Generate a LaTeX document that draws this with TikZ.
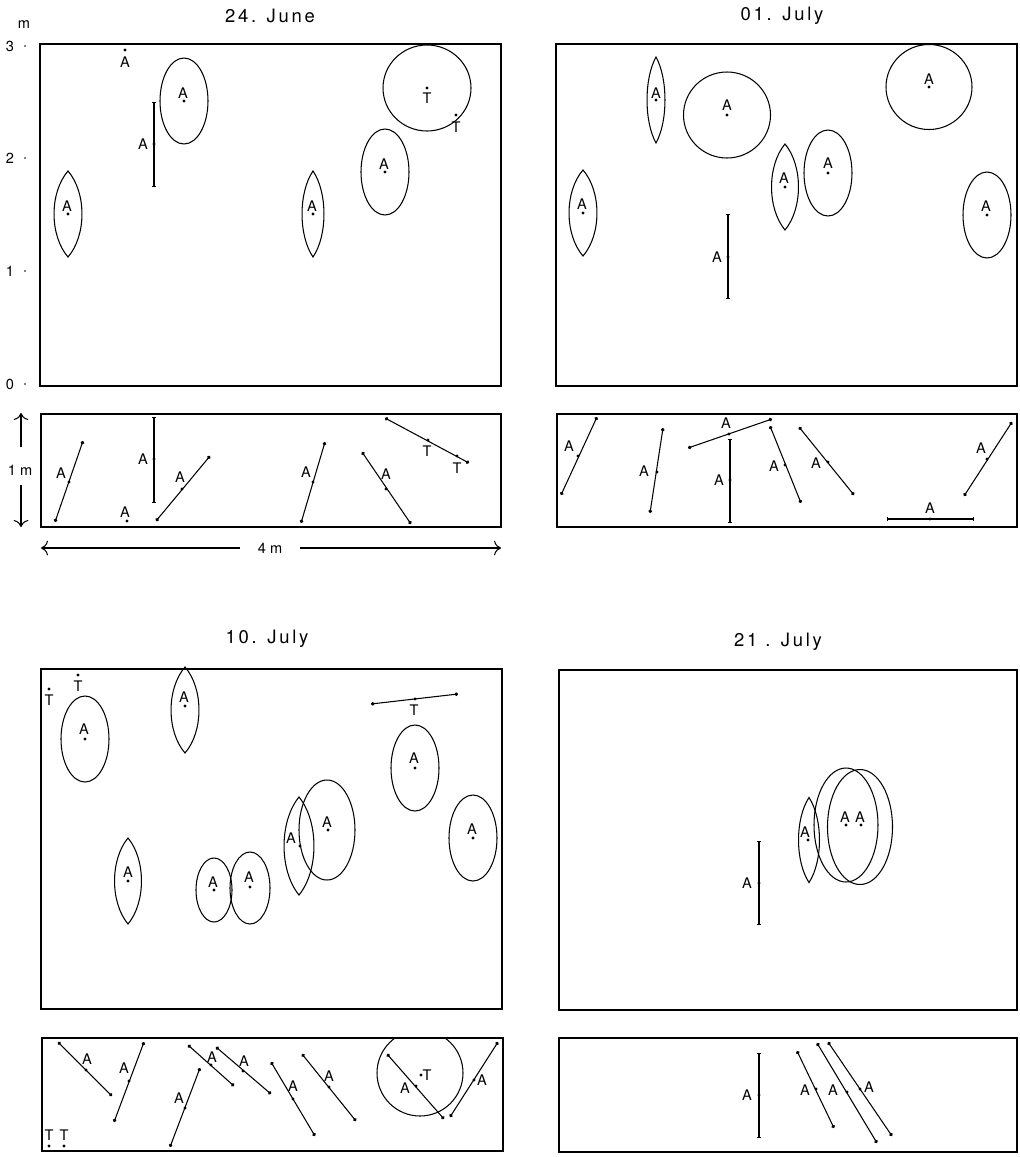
\documentclass[tikz,border=0pt]{standalone}
\usepackage{fontspec}
\setmainfont{TeX Gyre Heros}
\newfontfamily\titlefont[LetterSpace=15]{TeX Gyre Heros}
\usetikzlibrary{arrows.meta}
\usetikzlibrary{positioning}

% pointed leaf outline: centre x, centre y, half width, half height
\newcommand{\lens}[4]{%
  \draw[obj] (#1,{#2-#4}) .. controls ({#1+1.33*#3},{#2-0.5*#4}) and ({#1+1.33*#3},{#2+0.5*#4}) .. (#1,{#2+#4})
    .. controls ({#1-1.33*#3},{#2+0.5*#4}) and ({#1-1.33*#3},{#2-0.5*#4}) .. cycle;}

\begin{document}
\begin{tikzpicture}[x=0.02cm,y=-0.02cm,
  frame/.style={line width=0.8pt},
  obj/.style={line width=0.6pt},
  seg/.style={obj,{Circle[length=2pt]}-{Circle[length=2pt]}},
  rod/.style={obj,{Bar[width=2.4pt]}-{Bar[width=2.4pt]}},
  dotr/.style={radius=0.9pt},
  lbl/.style={font=\fontsize{8.3}{9}\selectfont,inner sep=0pt},
  ttl/.style={font=\titlefont\fontsize{10.5}{12}\selectfont,inner sep=0pt}]
\useasboundingbox (0,0) rectangle (1019,1157);

% titles
\node[ttl] (t1) at (270,16) {24. June};
\node[ttl] (t2) at (782,16) {01. July};
\node[ttl] (t3) at (267,639) {10. July};
\node[ttl] (t4) at (778,642) {21 . July};

% scale
\node[lbl] (ym) at (24,25) {m};
\node[lbl] (y3) at (10,46) {3};
\node[lbl] (y2) at (10,158) {2};
\node[lbl] (y1) at (10,271) {1};
\node[lbl] (y0) at (10,384) {0};
\foreach \yy in {46,158,271,384} \fill (25,\yy) circle [radius=0.5pt];
\node[lbl] (hm) at (20,470) {1 m};
\draw[obj,-{To[length=4pt]}] (21,447) -- (21,413);
\draw[obj,-{To[length=4pt]}] (21,485) -- (21,527);
\node[lbl] (wm) at (270,548) {4 m};
\draw[obj,-{To[length=4pt]}] (240,548) -- (41,548);
\draw[obj,-{To[length=4pt]}] (300,548) -- (501,548);

% frames
\draw[frame] (40,44) rectangle (501,386);
\draw[frame] (41,414) rectangle (501,527);
\draw[frame] (556,44) rectangle (1017,386);
\draw[frame] (557,414) rectangle (1017,527);
\draw[frame] (41,669) rectangle (502,1009);
\draw[frame] (42,1038) rectangle (503,1151);
\draw[frame] (559,670) rectangle (1017,1010);
\draw[frame] (559,1038) rectangle (1017,1152);

% 24. June, plan
\fill (125,50) circle [dotr]; \node[lbl] (ja1) at (125,62) {A};
\draw[rod] (154,102) -- (154,187); \fill (154,144) circle [dotr]; \node[lbl] (ja2) at (143,144) {A};
\draw[obj] (184,101) ellipse [x radius=24,y radius=43]; \fill (184,101) circle [dotr]; \node[lbl] (ja3) at (183,93) {A};
\lens{68}{214}{14}{43} \fill (68,214) circle [dotr]; \node[lbl] (ja4) at (67,206) {A};
\lens{313}{214}{11}{43} \fill (313,214) circle [dotr]; \node[lbl] (ja5) at (312,206) {A};
\draw[obj] (385,172) ellipse [x radius=24,y radius=43]; \fill (385,172) circle [dotr]; \node[lbl] (ja6) at (384,164) {A};
\draw[obj] (427,88) ellipse [x radius=44,y radius=43]; \fill (427,88) circle [dotr]; \node[lbl] (ja7) at (427,98) {T};
\fill (456,115) circle [dotr]; \node[lbl] (ja8) at (456,127) {T};

% 24. June, side
\draw[seg] (55,522) -- (83,441); \fill (69,482) circle [dotr]; \node[lbl] (jb1) at (61,473) {A};
\draw[rod] (154,417) -- (154,503); \fill (154,459) circle [dotr]; \node[lbl] (jb2) at (143,459) {A};
\fill (127,521) circle [dotr]; \node[lbl] (jb3) at (125,512) {A};
\draw[seg] (156,521) -- (210,456); \fill (182,489) circle [dotr]; \node[lbl] (jb4) at (180,477) {A};
\draw[seg] (301,523) -- (325,442); \fill (313,482) circle [dotr]; \node[lbl] (jb5) at (306,472) {A};
\draw[seg] (362,452) -- (411,524); \fill (386,489) circle [dotr]; \node[lbl] (jb6) at (386,474) {A};
\draw[seg] (385,418) -- (469,463); \fill (428,440) circle [dotr]; \fill (457,456) circle [dotr];
\node[lbl] (jb7) at (427,451) {T}; \node[lbl] (jb8) at (457,468) {T};

% 01. July, plan
\lens{656}{100}{9}{43} \fill (656,100) circle [dotr]; \node[lbl] (ka1) at (656,93) {A};
\draw[obj] (727,115) ellipse [x radius=43.5,y radius=43]; \fill (727,115) circle [dotr]; \node[lbl] (ka2) at (727,105) {A};
\draw[obj] (929,87) ellipse [x radius=43,y radius=42.5]; \fill (929,87) circle [dotr]; \node[lbl] (ka3) at (929,79) {A};
\lens{785}{187}{13.5}{43} \fill (785,187) circle [dotr]; \node[lbl] (ka4) at (784,178) {A};
\draw[obj] (828,173) ellipse [x radius=24,y radius=43]; \fill (828,173) circle [dotr]; \node[lbl] (ka5) at (828,163) {A};
\lens{583}{213}{14}{43} \fill (583,213) circle [dotr]; \node[lbl] (ka6) at (582,204) {A};
\draw[obj] (987,215) ellipse [x radius=24,y radius=43]; \fill (987,215) circle [dotr]; \node[lbl] (ka7) at (986,206) {A};
\draw[rod] (728,214) -- (728,299); \fill (728,257) circle [dotr]; \node[lbl] (ka8) at (717,257) {A};

% 01. July, side
\draw[seg] (561,495) -- (597,417); \fill (578,456) circle [dotr]; \node[lbl] (kb1) at (569,446) {A};
\draw[seg] (650,513) -- (663,428); \fill (657,472) circle [dotr]; \node[lbl] (kb2) at (644,471) {A};
\draw[seg] (688,448) -- (772,419); \fill (729,434) circle [dotr]; \node[lbl] (kb3) at (726,423) {A};
\draw[rod] (730,439) -- (730,523); \fill (730,480) circle [dotr]; \node[lbl] (kb4) at (719,480) {A};
\draw[seg] (770,426) -- (801,503); \fill (785,465) circle [dotr]; \node[lbl] (kb5) at (774,466) {A};
\draw[seg] (799,427) -- (854,495); \fill (828,462) circle [dotr]; \node[lbl] (kb6) at (816,463) {A};
\draw[rod] (887,519) -- (974,519); \fill (930,519) circle [dotr]; \node[lbl] (kb7) at (930,508) {A};
\draw[seg] (964,496) -- (1012,422); \fill (987,459) circle [dotr]; \node[lbl] (kb8) at (981,448) {A};

% 10. July, plan
\fill (49,689) circle [dotr]; \node[lbl] (ta1) at (49,700) {T};
\fill (78,675) circle [dotr]; \node[lbl] (ta2) at (78,686) {T};
\draw[obj] (85,739) ellipse [x radius=24,y radius=43]; \fill (85,739) circle [dotr]; \node[lbl] (ta3) at (84,729) {A};
\lens{185}{710}{14}{43} \fill (185,706) circle [dotr]; \node[lbl] (ta4) at (184,697) {A};
\draw[seg] (371,704) -- (458,694); \fill (415,699) circle [dotr]; \node[lbl] (ta5) at (414,710) {T};
\draw[obj] (415,768) ellipse [x radius=24,y radius=43]; \fill (415,768) circle [dotr]; \node[lbl] (ta6) at (414,758) {A};
\lens{128}{881}{13.5}{43} \fill (128,881) circle [dotr]; \node[lbl] (ta7) at (128,872) {A};
\draw[obj] (214,890) ellipse [x radius=18,y radius=32]; \fill (214,890) circle [dotr]; \node[lbl] (ta8) at (213,882) {A};
\draw[obj] (250,888) ellipse [x radius=20,y radius=36]; \fill (250,887) circle [dotr]; \node[lbl] (ta9) at (249,877) {A};
\lens{299}{846}{15}{49} \fill (300,846) circle [dotr]; \node[lbl] (ta10) at (291,838) {A};
\draw[obj] (327,830) ellipse [x radius=28,y radius=50]; \fill (328,830) circle [dotr]; \node[lbl] (ta11) at (327,822) {A};
\draw[obj] (473,838) ellipse [x radius=24,y radius=43]; \fill (473,838) circle [dotr]; \node[lbl] (ta12) at (472,829) {A};

% 10. July, side
\draw[seg] (58,1042) -- (112,1096); \fill (86,1070) circle [dotr]; \node[lbl] (tb1) at (87,1059) {A};
\draw[seg] (114,1122) -- (144,1042); \fill (129,1081) circle [dotr]; \node[lbl] (tb2) at (124,1068) {A};
\draw[seg] (170,1147) -- (200,1068); \fill (185,1108) circle [dotr]; \node[lbl] (tb3) at (179,1098) {A};
\draw[seg] (188,1045) -- (234,1086); \fill (211,1065) circle [dotr]; \node[lbl] (tb4) at (212,1057) {A};
\draw[seg] (216,1047) -- (271,1094); \fill (243,1071) circle [dotr]; \node[lbl] (tb5) at (244,1061) {A};
\draw[seg] (271,1062) -- (315,1136); \fill (293,1099) circle [dotr]; \node[lbl] (tb6) at (293,1086) {A};
\draw[seg] (302,1054) -- (356,1121); \fill (329,1087) circle [dotr]; \node[lbl] (tb7) at (329,1076) {A};
\begin{scope}
\clip (42,1038) rectangle (503,1151);
\draw[obj] (420,1073) circle [radius=43];
\end{scope}
\fill (421,1075) circle [dotr]; \node[lbl] (tb8) at (427,1075) {T};
\draw[seg] (387,1054) -- (444,1119); \fill (416,1086) circle [dotr]; \node[lbl] (tb9) at (405,1088) {A};
\draw[seg] (450,1117) -- (498,1042); \fill (474,1080) circle [dotr]; \node[lbl] (tb10) at (482,1080) {A};
\fill (49,1146) circle [dotr]; \node[lbl] (tb11) at (49,1135) {T};
\fill (64,1146) circle [dotr]; \node[lbl] (tb12) at (64,1135) {T};

% 21. July, plan
\draw[rod] (759,841) -- (759,925); \fill (759,883) circle [dotr]; \node[lbl] (wa1) at (747,883) {A};
\lens{809}{840}{10.5}{42.5} \fill (808,840) circle [dotr]; \node[lbl] (wa2) at (805,832) {A};
\draw[obj] (846,825) ellipse [x radius=32,y radius=57];
\draw[obj] (860,827) ellipse [x radius=32.5,y radius=57.5];
\fill (846,825) circle [dotr]; \node[lbl] (wa3) at (845,817) {A};
\fill (861,825) circle [dotr]; \node[lbl] (wa4) at (860,817) {A};

% 21. July, side
\draw[rod] (759,1053) -- (759,1138); \fill (759,1095) circle [dotr]; \node[lbl] (wb1) at (747,1095) {A};
\draw[seg] (797,1051) -- (834,1128); \fill (816,1089) circle [dotr]; \node[lbl] (wb2) at (805,1090) {A};
\draw[seg] (817,1043) -- (877,1143); \fill (847,1092) circle [dotr]; \node[lbl] (wb3) at (833,1090) {A};
\draw[seg] (828,1042) -- (892,1136); \fill (860,1089) circle [dotr]; \node[lbl] (wb4) at (869,1087) {A};

\end{tikzpicture}
\end{document}
